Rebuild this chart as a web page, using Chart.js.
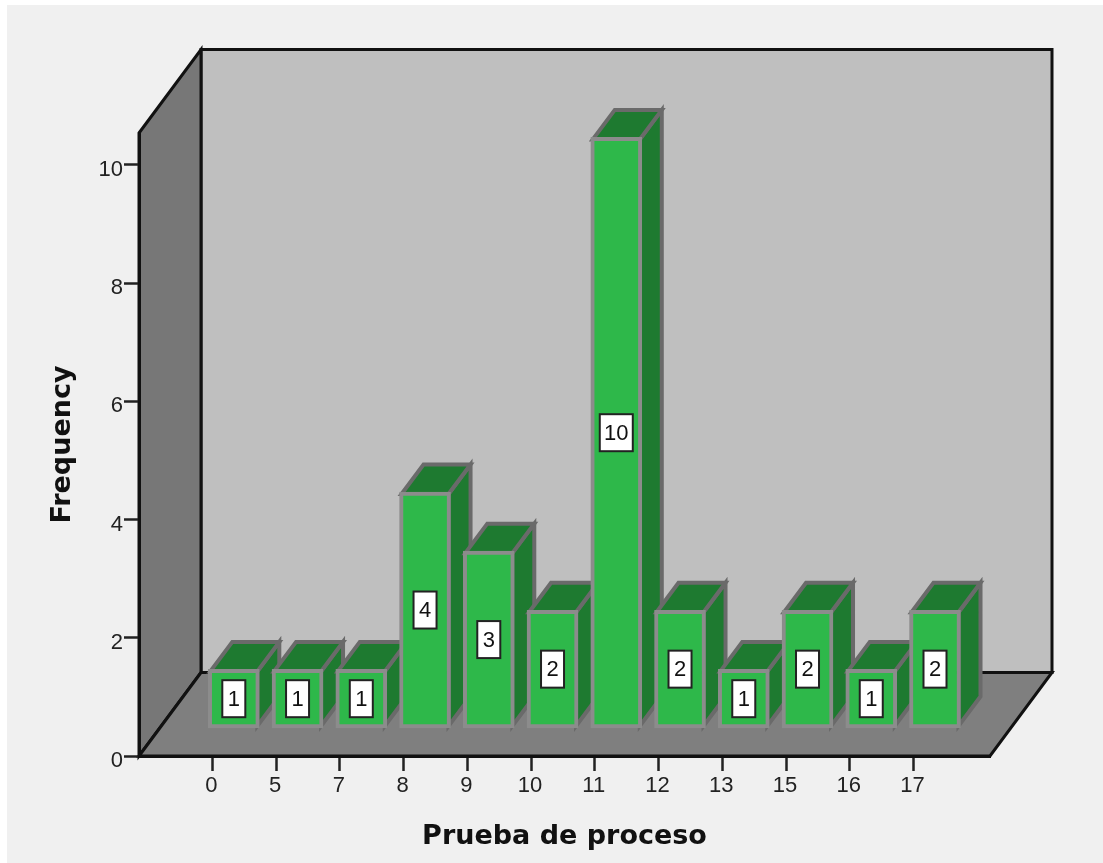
<!DOCTYPE html>
<html><head><meta charset="utf-8">
<style>html,body{margin:0;padding:0;background:#fff;overflow:hidden}canvas{display:block;filter:blur(0.5px)}</style>
<script src="https://cdn.jsdelivr.net/npm/chart.js@4"></script>
</head><body>
<div style="width:1103px;height:863px;position:relative"><canvas id="c" width="1103" height="863"></canvas></div>
<script>
const categories = ['0','5','7','8','9','10','11','12','13','15','16','17'];
const frequency = [1,1,1,4,3,2,10,2,1,2,1,2];
const yTicks = [0,2,4,6,8,10];
const xTitle = 'Prueba de proceso';
const yTitle = 'Frequency';

const WALL_DX = 62, WALL_DY = -83.5, BAR_OFF_X = 21.5, BAR_OFF_Y = -27.5, DEPTH_X = 22, DEPTH_Y = -29.5;
const C = {page:'#f0f0f0',back:'#bfbfbf',left:'#777777',floor:'#7f7f7f',line:'#111111',
  green:'#2eb84a',dark:'#1e7a30',edge:'#8c8c8c',edgeDark:'#6a6a6a'};

function poly(ctx,pts,fill,stroke,w){
  ctx.beginPath();pts.forEach((p,i)=>i?ctx.lineTo(p[0],p[1]):ctx.moveTo(p[0],p[1]));ctx.closePath();
  if(fill){ctx.fillStyle=fill;ctx.fill();}
  if(stroke){ctx.strokeStyle=stroke;ctx.lineWidth=w;ctx.lineJoin='miter';ctx.stroke();}
}
const scene = {
  id:'scene',
  beforeDraw(ch){
    const {ctx,chartArea:a}=ch;
    ctx.save();
    ctx.fillStyle=C.page;ctx.fillRect(7,5,1096,858);
    const L=a.left,R=a.right,T=a.top,B=a.bottom,dx=WALL_DX,dy=WALL_DY;
    poly(ctx,[[L+dx,T+dy],[R+dx,T+dy],[R+dx,B+dy],[L+dx,B+dy]],C.back,C.line,3);
    poly(ctx,[[L,T],[L+dx,T+dy],[L+dx,B+dy],[L,B]],C.left,C.line,3);
    poly(ctx,[[L,B],[L+dx,B+dy],[R+dx,B+dy],[R,B]],C.floor,C.line,3);
    ctx.restore();
  },
  beforeDatasetsDraw(ch){
    const {ctx}=ch, m=ch.getDatasetMeta(0);
    ctx.save();ctx.translate(BAR_OFF_X,BAR_OFF_Y);
    m.data.forEach(b=>{
      const l=b.x-b.width/2+2,r=b.x+b.width/2-2,t=b.y+2,bt=b.base-2,dx=DEPTH_X,dy=DEPTH_Y;
      poly(ctx,[[r,t],[r+dx,t+dy],[r+dx,bt+dy],[r,bt]],C.dark,C.edgeDark,4);
      poly(ctx,[[l,t],[l+dx,t+dy],[r+dx,t+dy],[r,t]],C.dark,C.edgeDark,4);
    });
    ctx.restore();
  },
  beforeDatasetDraw(ch){ch.ctx.save();ch.ctx.translate(BAR_OFF_X,BAR_OFF_Y);},
  afterDatasetDraw(ch){ch.ctx.restore();},
  afterDatasetsDraw(ch){
    const {ctx}=ch, m=ch.getDatasetMeta(0);
    ctx.save();ctx.translate(BAR_OFF_X,BAR_OFF_Y);
    ctx.font='22px "Liberation Sans"';ctx.textAlign='center';ctx.textBaseline='middle';
    m.data.forEach((b,i)=>{
      const txt=String(frequency[i]),cy=(b.y+b.base)/2,h=37,w=txt.length>1?33:23;
      ctx.fillStyle='#fff';ctx.strokeStyle='#222';ctx.lineWidth=2;
      ctx.fillRect(b.x-w/2,cy-h/2,w,h);ctx.strokeRect(b.x-w/2,cy-h/2,w,h);
      ctx.fillStyle='#111';ctx.fillText(txt,b.x,cy+1);
    });
    ctx.restore();
  }
};
new Chart(document.getElementById('c'),{
  type:'bar',
  data:{datasets:[{label:yTitle,data:frequency.map((v,i)=>({x:i,y:v})),
    backgroundColor:C.green,borderColor:C.edge,borderWidth:4,borderSkipped:false,barThickness:51,clip:false}]},
  plugins:[scene],
  options:{
    responsive:false,animation:false,
    layout:{padding:{left:0,top:133,right:113,bottom:0}},
    plugins:{legend:{display:false},tooltip:{enabled:false}},
    scales:{
      x:{type:'linear',min:-1.15,max:12.2,offset:false,
        afterFit(s){s.height=107;},
        afterBuildTicks(s){s.ticks=categories.map((c,i)=>({value:i}));},
        grid:{display:true,offset:false,drawOnChartArea:false,drawTicks:true,tickLength:15,tickWidth:2.5,tickColor:'#222'},
        border:{display:true,color:C.line,width:3},
        ticks:{autoSkip:false,maxRotation:0,padding:2,labelOffset:-1,color:'#222',font:{family:'"Liberation Sans"',size:22},
          callback(v){return categories[v];}},
        title:{display:true,text:xTitle,color:'#111',font:{family:'"DejaVu Sans"',size:27,weight:'bold'},padding:{top:0,bottom:10}}
      },
      y:{type:'linear',min:0,max:10.54,
        afterFit(s){s.width=139;},
        afterBuildTicks(s){s.ticks=yTicks.map(v=>({value:v}));},
        grid:{display:true,drawOnChartArea:false,drawTicks:true,tickLength:15,tickWidth:2.5,tickColor:'#222'},
        border:{display:true,color:C.line,width:3},
        ticks:{padding:1,labelOffset:5,color:'#222',font:{family:'"Liberation Sans"',size:22}},
        title:{display:true,text:yTitle,color:'#111',font:{family:'"DejaVu Sans"',size:27,weight:'bold'},padding:{top:47,bottom:0}}
      }
    }
  }
});
</script></body></html>
